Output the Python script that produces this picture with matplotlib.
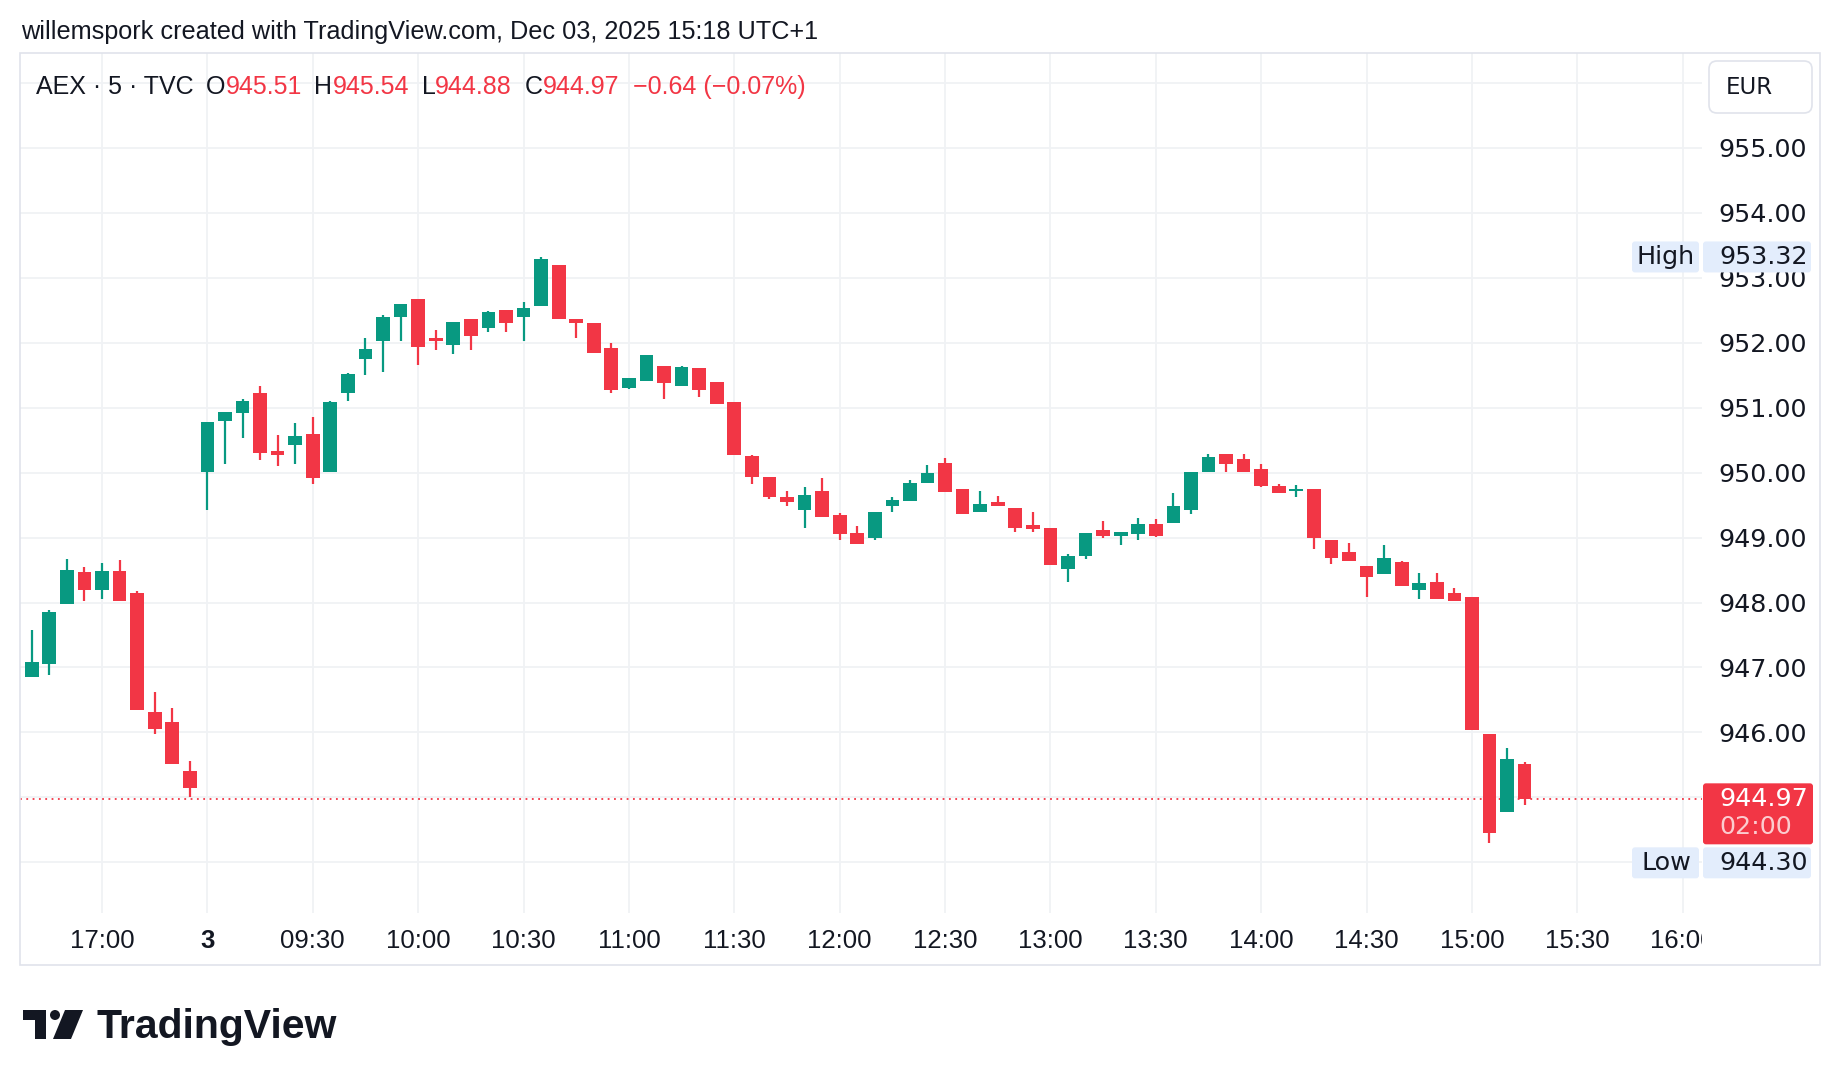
import matplotlib
matplotlib.use("Agg")
import matplotlib.pyplot as plt
from matplotlib.patches import Rectangle, FancyBboxPatch, Circle, Polygon
from matplotlib.transforms import Bbox, TransformedBbox
import numpy as np
import pandas as pd

# AEX 5 min candles: last bars of Dec 2 and the Dec 3 session up to 15:15
opens = [946.85, 947.05, 947.97, 948.47, 948.20, 948.49, 948.14, 946.32, 946.16, 945.41,
         950.01, 950.79, 950.92, 951.22, 950.33, 950.43, 950.60, 950.01, 951.22, 951.75,
         952.02, 952.39, 952.68, 952.07, 951.96, 952.37, 952.22, 952.51, 952.40, 952.56,
         953.20, 952.37, 952.31, 951.92, 951.31, 951.41, 951.64, 951.33, 951.61, 951.40,
         951.09, 950.26, 949.93, 949.62, 949.43, 949.72, 949.35, 949.07, 948.99, 949.49,
         949.57, 949.84, 950.15, 949.75, 949.39, 949.54, 949.45, 949.20, 949.15, 948.51,
         948.71, 949.12, 949.03, 949.06, 949.21, 949.23, 949.43, 950.01, 950.29, 950.21,
         950.06, 949.80, 949.71, 949.74, 948.96, 948.78, 948.56, 948.44, 948.63, 948.20,
         948.32, 948.15, 948.08, 945.98, 944.78, 945.51]
highs = [947.58, 947.88, 948.67, 948.55, 948.61, 948.66, 948.18, 946.63, 946.37, 945.56,
         950.78, 950.94, 951.13, 951.34, 950.58, 950.77, 950.85, 951.10, 951.53, 952.07,
         952.43, 952.59, 952.68, 952.20, 952.32, 952.37, 952.49, 952.51, 952.62, 953.32,
         953.20, 952.37, 952.31, 952.00, 951.46, 951.81, 951.64, 951.64, 951.61, 951.40,
         951.09, 950.27, 949.93, 949.71, 949.78, 949.92, 949.38, 949.18, 949.40, 949.62,
         949.89, 950.12, 950.23, 949.75, 949.71, 949.64, 949.45, 949.40, 949.15, 948.75,
         949.07, 949.25, 949.09, 949.30, 949.29, 949.68, 950.01, 950.29, 950.29, 950.29,
         950.13, 949.82, 949.81, 949.74, 948.96, 948.92, 948.56, 948.89, 948.64, 948.45,
         948.45, 948.23, 948.08, 945.98, 945.76, 945.54]
lows = [946.85, 946.88, 947.97, 948.02, 948.05, 948.03, 946.34, 945.97, 945.51, 945.00,
        949.43, 950.13, 950.53, 950.19, 950.10, 950.13, 949.83, 950.01, 951.11, 951.51,
        951.55, 952.02, 951.65, 951.88, 951.82, 951.88, 952.17, 952.16, 952.03, 952.56,
        952.36, 952.08, 951.84, 951.22, 951.28, 951.41, 951.14, 951.33, 951.17, 951.05,
        950.27, 949.82, 949.59, 949.48, 949.15, 949.32, 948.96, 948.90, 948.97, 949.40,
        949.57, 949.84, 949.70, 949.36, 949.39, 949.48, 949.08, 949.08, 948.58, 948.31,
        948.67, 948.99, 948.88, 948.97, 949.01, 949.23, 949.37, 950.01, 950.01, 950.01,
        949.78, 949.69, 949.63, 948.82, 948.59, 948.64, 948.08, 948.44, 948.25, 948.06,
        948.05, 948.03, 946.04, 944.29, 944.78, 944.88]
closes = [947.08, 947.86, 948.50, 948.20, 948.49, 948.03, 946.34, 946.05, 945.51, 945.14,
          950.78, 950.94, 951.10, 950.30, 950.27, 950.57, 949.92, 951.09, 951.52, 951.90,
          952.40, 952.59, 951.94, 952.03, 952.32, 952.11, 952.48, 952.31, 952.54, 953.29,
          952.36, 952.31, 951.84, 951.27, 951.46, 951.81, 951.38, 951.63, 951.27, 951.05,
          950.27, 949.94, 949.62, 949.54, 949.65, 949.32, 949.06, 948.90, 949.40, 949.58,
          949.84, 950.00, 949.70, 949.36, 949.51, 949.48, 949.14, 949.13, 948.58, 948.72,
          949.07, 949.03, 949.09, 949.21, 949.03, 949.49, 950.01, 950.24, 950.14, 950.01,
          949.80, 949.69, 949.75, 949.00, 948.68, 948.64, 948.40, 948.69, 948.25, 948.30,
          948.05, 948.03, 946.04, 944.45, 945.59, 944.97]

# time slots: end of Dec 2 session + Dec 3 session (future slots keep the axis running)
day1 = pd.date_range("2025-12-02 16:40", "2025-12-02 17:25", freq="5min")
day2 = pd.date_range("2025-12-03 09:00", "2025-12-03 16:05", freq="5min")
times = day1.append(day2)

last_price = 944.97
day_high = 953.32
day_low = 944.30
countdown = "02:00"
price_ticks = list(range(944, 957))
hidden_ticks = [944, 945, 956]   # covered by the tags / currency button
header = "willemspork created with TradingView.com, Dec 03, 2025 15:18 UTC+1"
symbol = "AEX · 5 · TVC"
change_txt = "\u22120.64 (\u22120.07%)"

GREEN = "#089981"
RED = "#f23645"
TXT = "#131722"
GRID = "#f0f2f5"
BORDER = "#e0e3eb"
LBL_BG = "#e3edfc"
PFS = 18.3   # price scale font size

plt.rcParams["font.family"] = ["Liberation Sans", "DejaVu Sans"]

W, H = 1840, 1086
fig = plt.figure(figsize=(W / 100, H / 100), dpi=100)
fig.patch.set_facecolor("white")

# main chart area (pixel layout of the screenshot)
ax = fig.add_axes([20 / W, 1 - 913 / H, (1702 - 20) / W, (913 - 53) / H])
ax.set_xlim(-0.67, 95.1)
ax.set_ylim(943.22, 956.46)
for s in ax.spines.values():
    s.set_visible(False)

x = np.arange(len(opens))
o = np.array(opens)
c = np.array(closes)
cols = np.where(c >= o, GREEN, RED)
ax.vlines(x, lows, highs, colors=cols, lw=1.6, zorder=2)
ax.bar(x, np.maximum(np.abs(c - o), 0.03), bottom=np.minimum(o, c), width=0.78,
       color=cols, linewidth=0, zorder=3)

ax.axhline(last_price, color=RED, lw=1.3, ls=(0, (1, 2.5)), zorder=1.5)

# price scale on the right
ax.yaxis.tick_right()
ax.set_yticks(price_ticks, ["" if p in hidden_ticks else f"{p:.2f}" for p in price_ticks])
ax.tick_params(axis="y", length=0, pad=12, labelsize=PFS, labelcolor=TXT)
for lbl in ax.get_yticklabels():
    lbl.set_fontfamily("DejaVu Sans")

# time scale
tick_pos = [i for i, t in enumerate(times) if t.minute in (0, 30)]
tick_lab = ["3" if (t.hour == 9 and t.minute == 0) else t.strftime("%H:%M") for t in times[tick_pos]]
ax.set_xticks(tick_pos, tick_lab)
ax.tick_params(axis="x", length=0, pad=11.5, labelsize=18.5, labelcolor=TXT)
clip = TransformedBbox(Bbox([[0, 0], [1702 / W, 1]]), fig.transFigure)
for lbl in ax.get_xticklabels():
    if lbl.get_text() == "3":
        lbl.set_fontweight("bold")
    if lbl.get_text() == "16:00":
        lbl.set_clip_box(clip)
        lbl.set_clip_on(True)

ax.grid(True, color=GRID, lw=1.3, zorder=0)
ax.set_axisbelow(True)

# overlay in screen pixels for frame, header, labels and logo
ov = fig.add_axes([0, 0, 1, 1], zorder=5)
ov.set_xlim(0, W)
ov.set_ylim(H, 0)
ov.axis("off")
ov.patch.set_alpha(0)


def py(price):
    return H - ax.transData.transform((0, price))[1]


ov.add_patch(Rectangle((20, 53), 1800, 912, fill=False, ec=BORDER, lw=1.2))
ov.text(21, 32, header, fontsize=18.2, color=TXT, va="center", ha="left")

# OHLC legend line
pieces = [("O", TXT, 9), (f"{opens[-1]:.2f}", RED, 0), ("H", TXT, 9), (f"{highs[-1]:.2f}", RED, 0),
          ("L", TXT, 9), (f"{lows[-1]:.2f}", RED, 0), ("C", TXT, 9), (f"{closes[-1]:.2f}", RED, 0),
          (change_txt, RED, 10)]
prev = ov.text(36, 99, symbol, fontsize=18, color=TXT, va="bottom", ha="left")
for txt, colr, gap in pieces:
    prev = ov.annotate(txt, xy=(1, 0), xycoords=prev, xytext=(gap, 0), textcoords="offset points",
                       fontsize=18, color=colr, va="bottom", ha="left")

# currency button
ov.add_patch(FancyBboxPatch((1709, 61), 103, 52, boxstyle="round,pad=0,rounding_size=8",
                            fc="white", ec=BORDER, lw=1.2))
ov.text(1726, 87, "EUR", fontsize=16.5, color=TXT, va="center", ha="left", family="DejaVu Sans")


def price_tag(y, label, value, bg, fg):
    ov.add_patch(FancyBboxPatch((1703, y - 15.5), 108, 31, boxstyle="round,pad=0,rounding_size=3",
                                fc=bg, ec="none"))
    ov.text(1719, y, value, fontsize=PFS, color=fg, va="center", ha="left", family="DejaVu Sans")
    if label:
        ov.add_patch(FancyBboxPatch((1632, y - 15.5), 67, 31, boxstyle="round,pad=0,rounding_size=3",
                                    fc=bg, ec="none"))
        ov.text(1666, y, label, fontsize=PFS, color=fg, va="center", ha="center", family="DejaVu Sans")


price_tag(py(day_high), "High", f"{day_high:.2f}", LBL_BG, TXT)

# last price + countdown
yl = py(last_price)
ov.add_patch(FancyBboxPatch((1703, yl - 16), 110, 61, boxstyle="round,pad=0,rounding_size=3",
                            fc=RED, ec="none"))
ov.text(1719, yl, f"{last_price:.2f}", fontsize=PFS, color="white", va="center", ha="left",
        family="DejaVu Sans")
ov.text(1719, yl + 28, countdown, fontsize=PFS, color="white", alpha=0.75, va="center", ha="left",
        family="DejaVu Sans")

# low tag is pushed below the last price tag
price_tag(max(py(day_low), yl + 45 + 3 + 15.5), "Low", f"{day_low:.2f}", LBL_BG, TXT)

# TradingView logo
ov.add_patch(Polygon([(23, 1010), (46, 1010), (46, 1039), (35, 1039), (35, 1020), (23, 1020)],
                     closed=True, fc=TXT, ec="none"))
ov.add_patch(Circle((55, 1015), 5, fc=TXT, ec="none"))
ov.add_patch(Polygon([(65, 1010), (83, 1010), (71, 1039), (53, 1039)], closed=True, fc=TXT, ec="none"))
ov.text(97, 1027, "TradingView", fontsize=29.5, fontweight="bold", color=TXT, va="center", ha="left")

fig.savefig("out.png", dpi=100, facecolor="white")
